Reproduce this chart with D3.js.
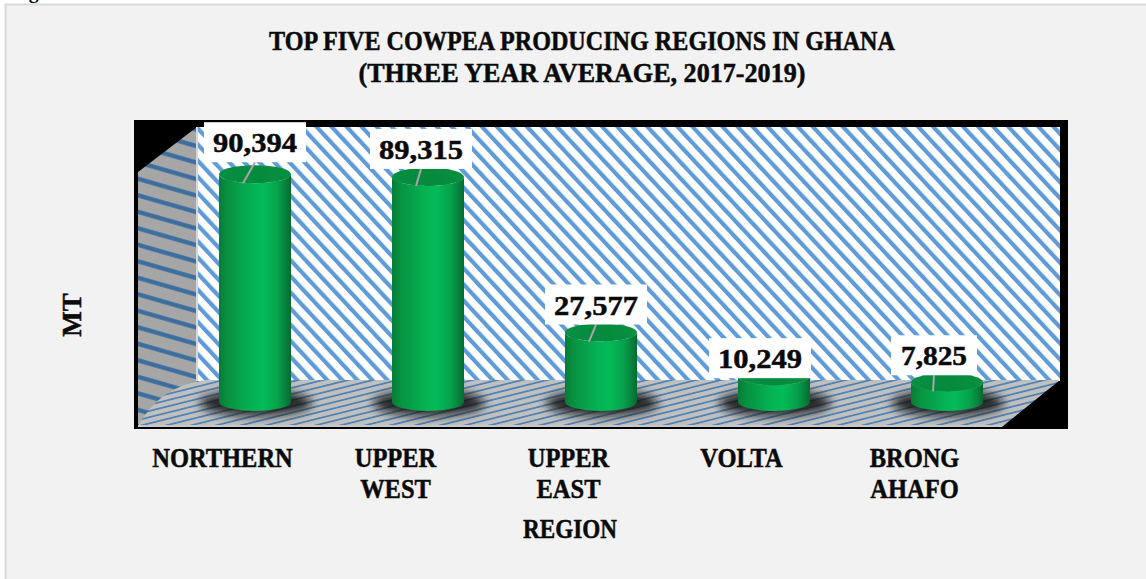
<!DOCTYPE html>
<html><head><meta charset="utf-8">
<script src="https://cdn.jsdelivr.net/npm/d3@7"></script>
<style>
html,body{margin:0;padding:0;background:#fff}
svg{display:block}
text{font-family:"Liberation Serif",serif;font-weight:bold;fill:#0a0a0a;stroke:#0a0a0a;stroke-width:.5px}
</style></head><body>
<svg id="c" width="1146" height="579"></svg>
<script>
const categories = ["NORTHERN","UPPER WEST","UPPER EAST","VOLTA","BRONG AHAFO"];
const values = [90394,89315,27577,10249,7825];
const titleLines = ["TOP FIVE COWPEA PRODUCING REGIONS IN GHANA","(THREE YEAR AVERAGE, 2017-2019)"];
const xTitle = "REGION", yTitle = "MT";

// layout only
const titleLen = [626,447];
const labelDx = [0,-7,-5,-14,-13];
const labelGap = [12,8,8,-2,7];
const leaderFoot = [[-12,9],[-12,9],[-12,9],null,[-14,9]];
const W=1146,H=579, rx=36, ry=9;

const svg=d3.select("#c");
const defs=svg.append("defs");

// patterns
defs.append("pattern").attr("id","pWall").attr("patternUnits","userSpaceOnUse")
  .attr("width",11).attr("height",11).attr("patternTransform","rotate(-43)")
  .call(p=>{p.append("rect").attr("width",11).attr("height",11).attr("fill","#fff");
            p.append("rect").attr("width",4.2).attr("height",11).attr("fill","#5f9bd6");});
defs.append("pattern").attr("id","pLeft").attr("patternUnits","userSpaceOnUse")
  .attr("width",20).attr("height",16.5).attr("patternTransform","skewY(16)")
  .call(p=>{p.append("rect").attr("width",20).attr("height",16.5).attr("fill","#a6a6a6");
            p.append("rect").attr("y",5).attr("width",20).attr("height",4.5).attr("fill","#3b6e9f");});
defs.append("pattern").attr("id","pFloor").attr("patternUnits","userSpaceOnUse")
  .attr("width",20).attr("height",6.2).attr("patternTransform","skewY(-14)")
  .call(p=>{p.append("rect").attr("width",20).attr("height",6.2).attr("fill","#c0c0c0");
            p.append("rect").attr("y",1).attr("width",20).attr("height",1.7).attr("fill","#4a7fb3");});

const side=defs.append("linearGradient").attr("id","gSide");
[[0,"#067c38"],[.12,"#07923f"],[.45,"#05b252"],[.62,"#04bb58"],[.82,"#06a04a"],[.95,"#067a39"],[1,"#05692f"]]
 .forEach(([o,c])=>side.append("stop").attr("offset",o).attr("stop-color",c));
const topG=defs.append("linearGradient").attr("id","gTop");
[[0,"#078f43"],[.5,"#058a3e"],[1,"#07903f"]]
 .forEach(([o,c])=>topG.append("stop").attr("offset",o).attr("stop-color",c));
defs.append("filter").attr("id","blur").attr("x","-40%").attr("y","-80%").attr("width","180%").attr("height","260%")
  .append("feGaussianBlur").attr("stdDeviation",5);

// chart background
svg.append("rect").attr("x",5.5).attr("y",4.5).attr("width",W+20).attr("height",H+20)
  .attr("fill","#f2f2f2").attr("stroke","#d9d9d9").attr("stroke-width",2);

// clipped line above the frame on the source page
svg.append("text").attr("x",11).attr("y",-2).attr("font-size",20).style("stroke","none").text("Figure");

// plot frame
svg.append("rect").attr("x",134).attr("y",120).attr("width",934).attr("height",309).attr("fill","#000");
svg.append("path").attr("fill","url(#pWall)").attr("d","M197,127H1060V381H197Z");
svg.append("path").attr("fill","url(#pLeft)").attr("d","M138,172L197,127V384L138,426Z");
svg.append("path").attr("fill","#d8d8d8").attr("d","M196,127h2V381h-2Z");
svg.append("path").attr("fill","url(#pFloor)").attr("d","M138,426Q160,386 205,380H1060L1003,426Z");
svg.append("path").attr("fill","#c9c9c9").attr("d","M138,425H1004L1002,427H138Z");

const x=d3.scalePoint().domain(categories).range([255,947]);
const y=d3.scaleLinear().domain([0,100000]).range([402,150]);

// shadows
svg.append("g").selectAll("ellipse").data(values).join("ellipse")
  .attr("cx",(d,i)=>x(categories[i])+1).attr("cy",y(0)+1)
  .attr("rx",rx+20).attr("ry",ry+4).attr("fill","#111").attr("opacity",.85)
  .attr("filter","url(#blur)");

// cylinders
const bars=svg.append("g").selectAll("g").data(values).join("g");
bars.append("path").attr("fill","url(#gSide)")
  .attr("d",(d,i)=>{const c=x(categories[i]);
    return `M${c-rx},${y(d)}V${y(0)}A${rx},${ry} 0 0 0 ${c+rx},${y(0)}V${y(d)}A${rx},${ry} 0 0 1 ${c-rx},${y(d)}Z`;});
bars.append("ellipse").attr("fill","url(#gTop)")
  .attr("cx",(d,i)=>x(categories[i])).attr("cy",d=>y(d)).attr("rx",rx).attr("ry",ry);

// data labels
const fmt=d3.format(",");
const labels=svg.append("g").selectAll("g").data(values).join("g")
  .attr("transform",(d,i)=>`translate(${x(categories[i])+labelDx[i]},${y(d)-labelGap[i]})`);
labels.each(function(d,i){
  const g=d3.select(this), foot=leaderFoot[i];
  if(foot) g.append("line").attr("x1",0).attr("y1",0)
     .attr("x2",foot[0]-labelDx[i]).attr("y2",labelGap[i]+foot[1])
     .attr("stroke","#a6a6a6").attr("stroke-width",2);
  const s=fmt(d), w=s.length===6?102:86, tl=s.length===6?84:66;
  g.append("rect").attr("x",-w/2).attr("y",-40).attr("width",w).attr("height",40).attr("fill","#fff");
  g.append("text").attr("text-anchor","middle").attr("y",-10).attr("font-size",28)
    .attr("textLength",tl).attr("lengthAdjust","spacingAndGlyphs").text(s);
});

// x axis (category labels, no line or ticks)
const axis=svg.append("g").attr("transform","translate(-33,445)")
  .call(d3.axisBottom(x).tickSize(0).tickPadding(0));
axis.select(".domain").remove();
axis.selectAll("text").each(function(d){
  const t=d3.select(this).text("").attr("font-size",27.5).attr("y",22).attr("dy",null)
     .attr("fill",null).attr("transform","scale(.89,1)");
  d.split(" ").forEach((w,i)=>t.append("tspan").attr("x",0).attr("y",22+i*31).text(w));
});
axis.attr("font-family",null).attr("font-size",null);

// titles
svg.append("g").selectAll("text").data(titleLines).join("text")
  .attr("x",582).attr("y",(d,i)=>50+i*32).attr("text-anchor","middle").attr("font-size",27.5)
  .attr("textLength",(d,i)=>titleLen[i]).attr("lengthAdjust","spacingAndGlyphs").text(d=>d);
svg.append("text").attr("x",570).attr("y",538).attr("text-anchor","middle").attr("font-size",27.5)
  .attr("textLength",94).attr("lengthAdjust","spacingAndGlyphs").text(xTitle);
svg.append("text").attr("transform","translate(81,315) rotate(-90)").attr("text-anchor","middle")
  .attr("font-size",27).text(yTitle);
</script>
</body></html>
